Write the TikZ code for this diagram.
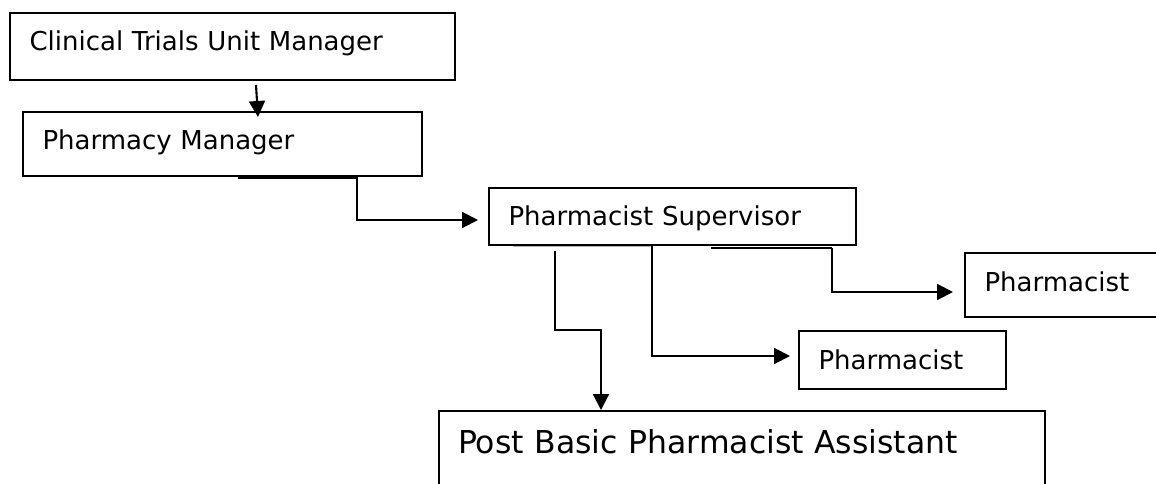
\documentclass[tikz,border=0pt]{standalone}
\usepackage{fontspec}
\setmainfont{DejaVu Sans}
\usetikzlibrary{arrows.meta,calc}
\begin{document}
\begin{tikzpicture}[x=1pt,y=-1pt,
  box/.style={draw,line width=2.1pt,anchor=north west,inner xsep=19.5pt,inner ysep=0pt,outer sep=0pt,align=left,font=\fontsize{26}{30}\selectfont},
  conn/.style={line width=2.1pt,-{Triangle[length=16pt,width=16pt]}},
  plain/.style={line width=2.1pt}]
\useasboundingbox (0,0) rectangle (1156,483);
\clip (0,0) rectangle (1156,483);
% boxes
\node[box,text width=406pt,text height=37pt,text depth=30pt] (clin) at (10,13) {Clinical Trials Unit Manager};
\node[box,text width=360pt,text height=37pt,text depth=27pt] (pm) at (23,112) {Pharmacy Manager};
\node[box,text width=328pt,text height=37pt,text depth=20pt] (sup) at (489,188) {Pharmacist Supervisor};
\node[box,text width=181pt,text height=38pt,text depth=26pt] (ph1) at (965,253) {Pharmacist};
\node[box,text width=168pt,text height=38pt,text depth=20pt] (ph2) at (799,331) {Pharmacist};
\node[box,inner xsep=19pt,text width=568pt,text height=42pt,text depth=48pt,font=\fontsize{31.5}{36}\selectfont] (pba) at (439,411) {Post Basic Pharmacist Assistant};
% connector points
\coordinate (c1s) at (256,85);
\coordinate (c1e) at (258,117);
\coordinate (c2s) at (238,177.5);
\coordinate (c2a) at (357,177.5);
\coordinate (c2b) at (357,220);
\coordinate (c2e) at (478,220);
\coordinate (gs) at (513,246.5);
\coordinate (ge) at (652,246.5);
\coordinate (c3s) at (555,251);
\coordinate (c3a) at (555,330);
\coordinate (c3b) at (601,330);
\coordinate (c3e) at (601,410);
\coordinate (c4s) at (652,246);
\coordinate (c4a) at (652,356);
\coordinate (c4e) at (790,356);
\coordinate (c5s) at (711,248);
\coordinate (c5a) at (832,248);
\coordinate (c5b) at (832,292);
\coordinate (c5e) at (953,292);
% connectors
\draw[conn] (c1s) -- (c1e);
\draw[conn] (c2s) -- (c2a) -- (c2b) -- (c2e);
\draw[gray!60,line width=1.6pt] (gs) -- (ge);
\draw[conn] (c3s) -- (c3a) -- (c3b) -- (c3e);
\draw[conn] (c4s) -- (c4a) -- (c4e);
\draw[line width=2.8pt] (c5s) -- (c5a);
\draw[conn] (c5a) -- (c5b) -- (c5e);
\end{tikzpicture}
\end{document}
